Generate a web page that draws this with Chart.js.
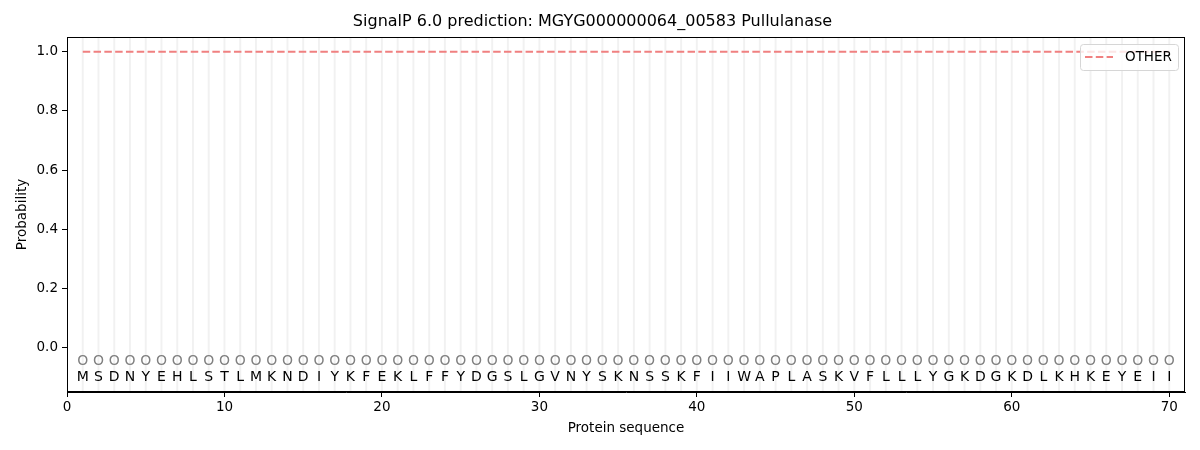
<!DOCTYPE html>
<html>
<head>
<meta charset="utf-8">
<script src="https://cdn.jsdelivr.net/npm/chart.js@4"></script>
<style>
  html, body { margin: 0; padding: 0; background: #fff; }
  #wrap { width: 1200px; height: 450px; }
</style>
</head>
<body>
<div id="wrap"><canvas id="chart" width="1200" height="450"></canvas></div>
<script>
/* ------------------------------------------------------------
   Data
   ------------------------------------------------------------ */
const sequence = [
    "M","S","D","N","Y","E","H","L","S","T",
    "L","M","K","N","D","I","Y","K","F","E",
    "K","L","F","F","Y","D","G","S","L","G",
    "V","N","Y","S","K","N","S","S","K","F",
    "I","I","W","A","P","L","A","S","K","V",
    "F","L","L","L","Y","G","K","D","G","K",
    "D","L","K","H","K","E","Y","E","I","I"
];
const predLabels = [
    "O","O","O","O","O","O","O","O","O","O",
    "O","O","O","O","O","O","O","O","O","O",
    "O","O","O","O","O","O","O","O","O","O",
    "O","O","O","O","O","O","O","O","O","O",
    "O","O","O","O","O","O","O","O","O","O",
    "O","O","O","O","O","O","O","O","O","O",
    "O","O","O","O","O","O","O","O","O","O"
];
const otherProb = [
    1.0, 1.0, 1.0, 1.0, 1.0, 1.0, 1.0, 1.0, 1.0, 1.0,
    1.0, 1.0, 1.0, 1.0, 1.0, 1.0, 1.0, 1.0, 1.0, 1.0,
    1.0, 1.0, 1.0, 1.0, 1.0, 1.0, 1.0, 1.0, 1.0, 1.0,
    1.0, 1.0, 1.0, 1.0, 1.0, 1.0, 1.0, 1.0, 1.0, 1.0,
    1.0, 1.0, 1.0, 1.0, 1.0, 1.0, 1.0, 1.0, 1.0, 1.0,
    1.0, 1.0, 1.0, 1.0, 1.0, 1.0, 1.0, 1.0, 1.0, 1.0,
    1.0, 1.0, 1.0, 1.0, 1.0, 1.0, 1.0, 1.0, 1.0, 1.0
];
const yTicks = [0.0, 0.2, 0.4, 0.6, 0.8, 1.0];
const xTicks = [0, 10, 20, 30, 40, 50, 60, 70];

const FONT = "'DejaVu Sans', sans-serif";
const LINE_COLOR = "#f08080";

/* ------------------------------------------------------------
   Plugin: residue guides, labels, frame, legend
   ------------------------------------------------------------ */
const seqPlugin = {
    id: "seqPlugin",
    beforeDatasetsDraw(chart) {
        const { ctx, chartArea, scales } = chart;
        ctx.save();
        ctx.strokeStyle = "rgba(0,0,0,0.055)";
        ctx.lineWidth = 2;
        sequence.forEach((_, i) => {
            const x = scales.x.getPixelForValue(i + 1);
            ctx.beginPath();
            ctx.moveTo(x, chartArea.top);
            ctx.lineTo(x, chartArea.bottom);
            ctx.stroke();
        });
        ctx.restore();
    },
    afterDraw(chart) {
        const { ctx, chartArea, scales } = chart;
        ctx.save();
        ctx.textAlign = "center";
        ctx.textBaseline = "middle";
        ctx.font = "14px " + FONT;

        const yO = scales.y.getPixelForValue(-0.047);
        const yS = scales.y.getPixelForValue(-0.1);
        predLabels.forEach((lab, i) => {
            const x = scales.x.getPixelForValue(i + 1);
            ctx.fillStyle = "#808080";
            ctx.fillText(lab, x, yO);
        });
        sequence.forEach((aa, i) => {
            const x = scales.x.getPixelForValue(i + 1);
            ctx.fillStyle = "#000";
            ctx.fillText(aa, x, yS);
        });

        // axes frame
        const l = Math.round(chartArea.left), t = Math.round(chartArea.top);
        const r = Math.round(chartArea.right), b = Math.round(chartArea.bottom);
        ctx.strokeStyle = "#000";
        ctx.lineWidth = 1;
        ctx.strokeRect(l + 0.5, t + 0.5, r - l - 1, b - t - 1);

        // legend
        const bw = 98, bh = 26;
        const bx = r - 7 - bw, by = t + 7;
        ctx.fillStyle = "rgba(255,255,255,0.8)";
        ctx.strokeStyle = "#d6d6d6";
        ctx.beginPath();
        ctx.roundRect(bx + 0.5, by + 0.5, bw, bh, 3);
        ctx.fill();
        ctx.stroke();
        ctx.strokeStyle = LINE_COLOR;
        ctx.lineWidth = 2;
        ctx.setLineDash([7.5, 3.3]);
        ctx.beginPath();
        ctx.moveTo(bx + 5, by + 13);
        ctx.lineTo(bx + 33, by + 13);
        ctx.stroke();
        ctx.setLineDash([]);
        ctx.fillStyle = "#000";
        ctx.textAlign = "left";
        ctx.font = "13.5px " + FONT;
        ctx.fillText("OTHER", bx + 45, by + 13.5);
        ctx.restore();
    }
};

/* ------------------------------------------------------------
   Chart
   ------------------------------------------------------------ */
new Chart(document.getElementById("chart"), {
    type: "line",
    data: {
        datasets: [{
            label: "OTHER",
            data: otherProb.map((p, i) => ({ x: i + 1, y: p })),
            borderColor: LINE_COLOR,
            borderWidth: 2,
            borderDash: [7.5, 3.3],
            pointRadius: 0,
            fill: false,
            tension: 0
        }]
    },
    options: {
        responsive: false,
        animation: false,
        layout: { padding: { left: 0, right: 15, top: 0, bottom: 0 } },
        plugins: {
            legend: { display: false },
            tooltip: { enabled: false },
            title: {
                display: true,
                text: "SignalP 6.0 prediction: MGYG000000064_00583 Pullulanase",
                color: "#000",
                font: { family: FONT, size: 16, weight: "normal", lineHeight: 1.25 },
                padding: { top: 12, bottom: 5 }
            }
        },
        scales: {
            x: {
                type: "linear",
                min: 0,
                max: 71,
                afterBuildTicks: s => { s.ticks = xTicks.map(v => ({ value: v })); },
                afterFit: s => { s.height = 58; },
                ticks: {
                    color: "#000",
                    font: { family: FONT, size: 13.5 },
                    padding: 2,
                    maxRotation: 0
                },
                grid: {
                    drawOnChartArea: false,
                    color: "#000",
                    tickLength: 5,
                    tickWidth: 1
                },
                border: { display: true, color: "#000", width: 1 },
                title: {
                    display: true,
                    text: "Protein sequence",
                    color: "#000",
                    font: { family: FONT, size: 13.5 },
                    padding: { top: 4, bottom: 13 }
                }
            },
            y: {
                type: "linear",
                min: -0.15,
                max: 1.05,
                afterBuildTicks: s => { s.ticks = yTicks.map(v => ({ value: v })); },
                afterFit: s => { s.width = 67; },
                ticks: {
                    color: "#000",
                    font: { family: FONT, size: 13.5 },
                    padding: 4,
                    callback: v => v.toFixed(1)
                },
                grid: {
                    drawOnChartArea: false,
                    color: "#000",
                    tickLength: 5,
                    tickWidth: 1
                },
                border: { display: true, color: "#000", width: 1 },
                title: {
                    display: true,
                    text: "Probability",
                    color: "#000",
                    font: { family: FONT, size: 13.5 },
                    padding: { top: 14, bottom: 0 }
                }
            }
        }
    },
    plugins: [seqPlugin]
});
</script>
</body>
</html>
